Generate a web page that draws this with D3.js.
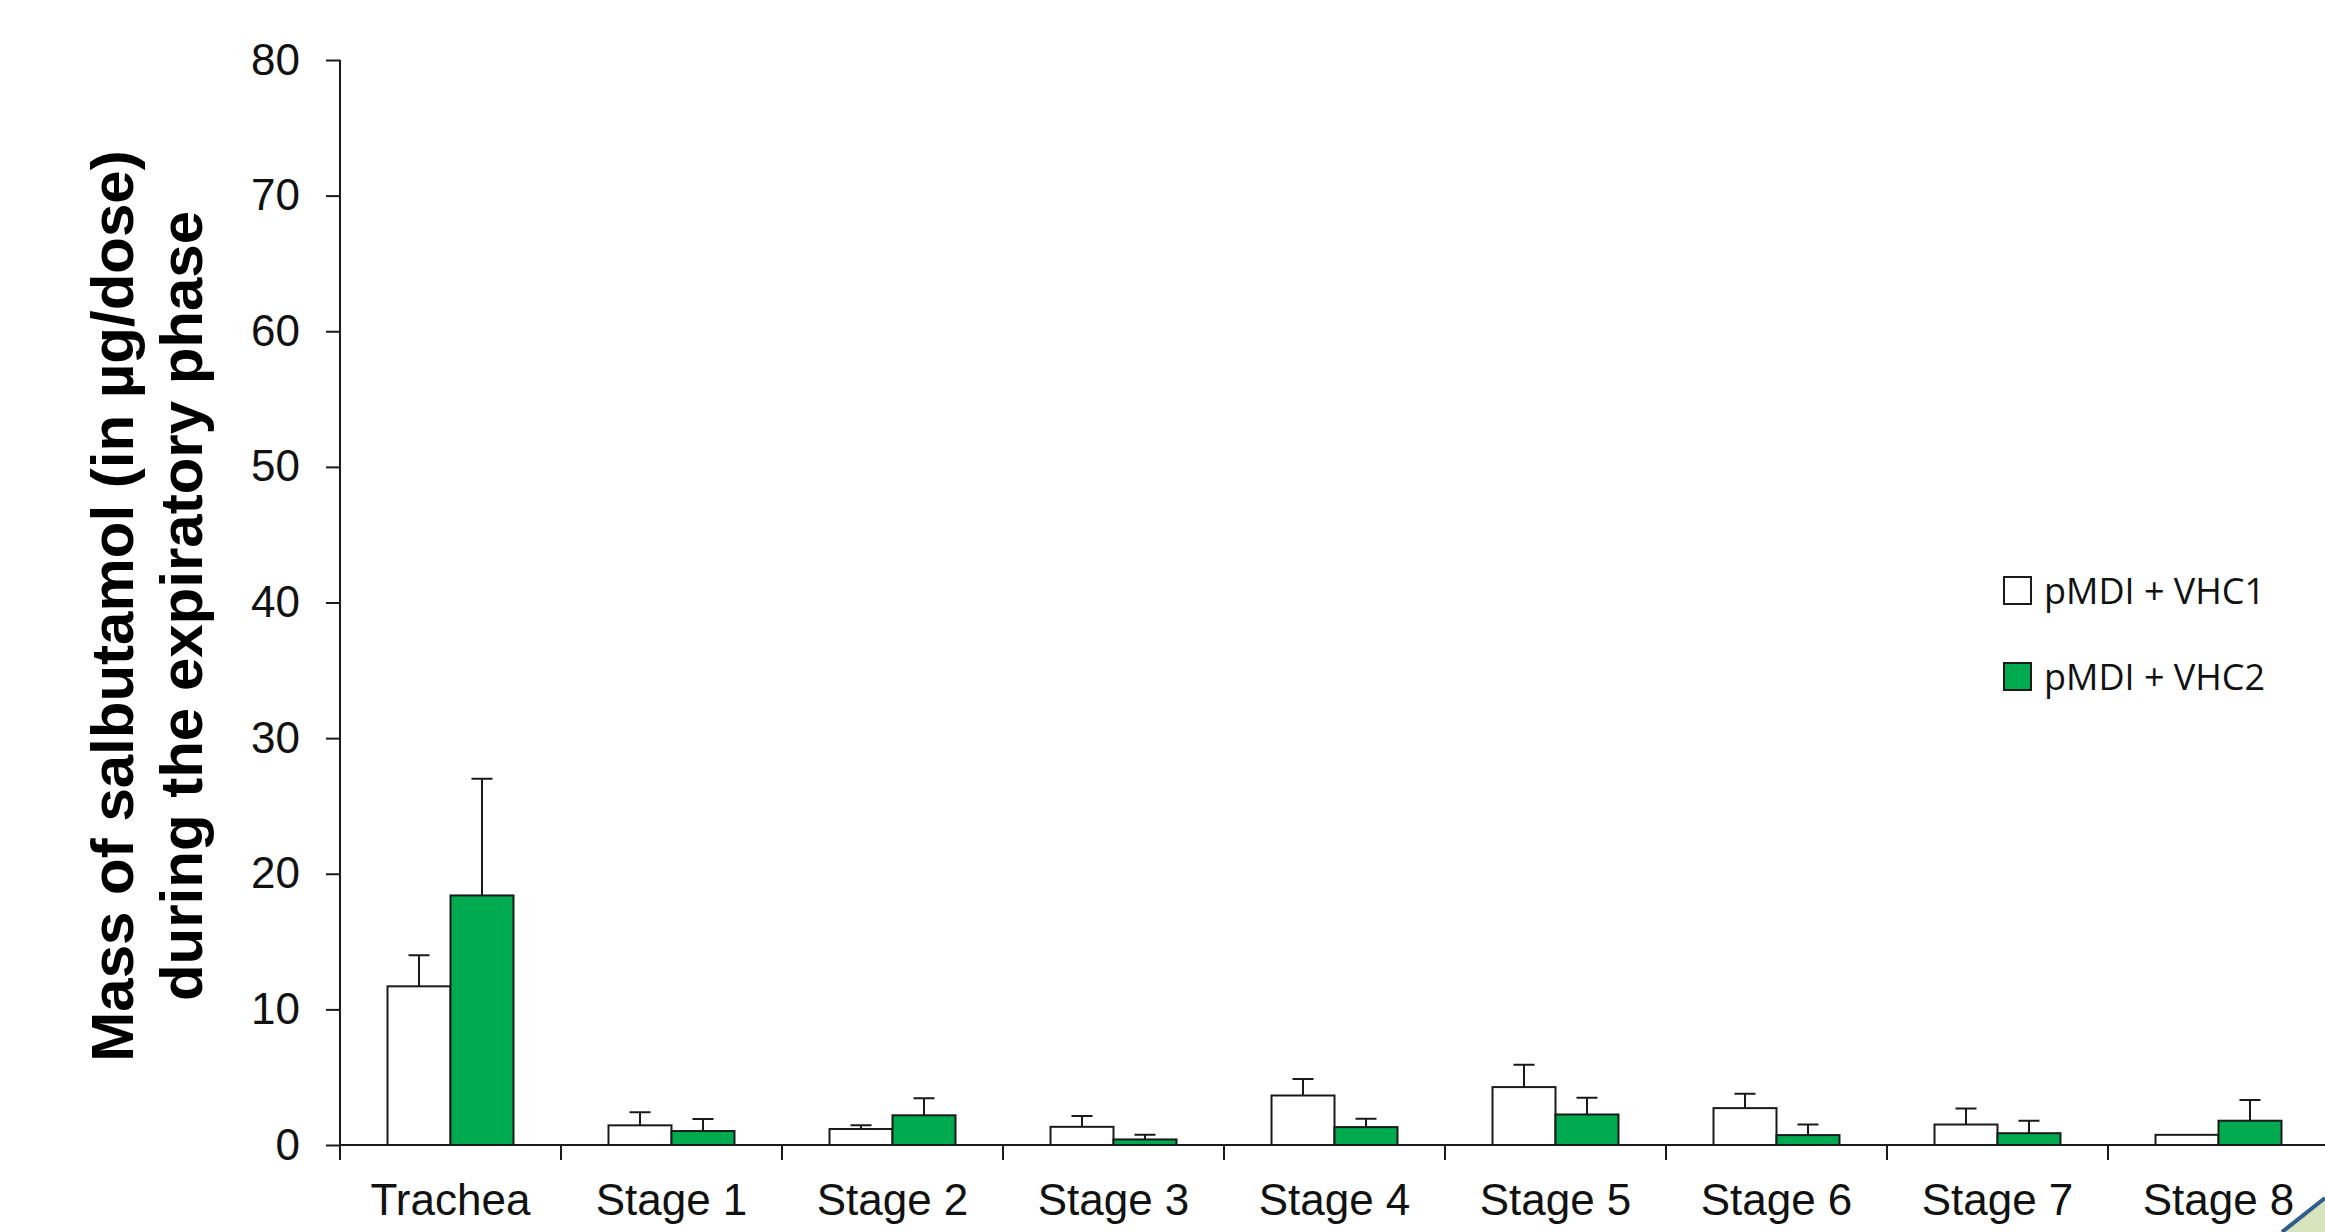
<!DOCTYPE html>
<html>
<head>
<meta charset="utf-8">
<script src="https://cdn.jsdelivr.net/npm/d3@7"></script>
<style>
  html, body { margin: 0; padding: 0; background: #ffffff; }
  svg { display: block; }
</style>
</head>
<body>
<script>
// Salbutamol deposited per stage during the expiratory phase (µg/dose), mean + SD
const categories = ["Trachea", "Stage 1", "Stage 2", "Stage 3", "Stage 4", "Stage 5", "Stage 6", "Stage 7", "Stage 8"];
const seriesNames = ["pMDI + VHC1", "pMDI + VHC2"];
const vhc1Mean = [11.7, 1.45, 1.18, 1.34, 3.65, 4.27, 2.72, 1.51, 0.75];
const vhc1Top  = [14.0, 2.42, 1.45, 2.13, 4.86, 5.92, 3.78, 2.69, null];
const vhc2Mean = [18.4, 1.03, 2.19, 0.41, 1.32, 2.25, 0.73, 0.87, 1.79];
const vhc2Top  = [27.0, 1.92, 3.45, 0.75, 1.93, 3.48, 1.51, 1.79, 3.31];
const yTicks = [0, 10, 20, 30, 40, 50, 60, 70, 80];

const W = 2325, H = 1232;
const plotLeft = 340, plotRight = 2329, plotTop = 60, plotBottom = 1145;
const ink = "#1a1a1a";
const green = "#00ab4f";
const fills = ["#ffffff", green];

const svg = d3.select("body").append("svg")
  .attr("width", W).attr("height", H)
  .attr("viewBox", `0 0 ${W} ${H}`);

const x = d3.scaleBand().domain(categories).range([plotLeft, plotRight]).paddingInner(0).paddingOuter(0);
const bw = x.bandwidth();
const xs = d3.scaleBand().domain(seriesNames).range([bw * 0.215, bw * 0.785]).padding(0);
const y = d3.scaleLinear().domain([0, 80]).range([plotBottom, plotTop]);

const rows = categories.map((c, i) => ({
  cat: c,
  vals: [
    { s: seriesNames[0], v: vhc1Mean[i], t: vhc1Top[i], f: fills[0] },
    { s: seriesNames[1], v: vhc2Mean[i], t: vhc2Top[i], f: fills[1] }
  ]
}));

// Bars and error bars
const groups = svg.append("g").selectAll("g").data(rows).join("g")
  .attr("transform", d => `translate(${x(d.cat)},0)`);

groups.selectAll("path.err").data(d => d.vals.filter(v => v.t != null)).join("path")
  .attr("class", "err")
  .attr("d", d => {
    const cx = xs(d.s) + xs.bandwidth() / 2;
    return `M${cx},${y(d.v)}V${y(d.t)}M${cx - 10.5},${y(d.t)}H${cx + 10.5}`;
  })
  .attr("fill", "none").attr("stroke", ink).attr("stroke-width", 2);

groups.selectAll("rect").data(d => d.vals).join("rect")
  .attr("x", d => xs(d.s))
  .attr("y", d => y(d.v))
  .attr("width", xs.bandwidth())
  .attr("height", d => y(0) - y(d.v))
  .attr("fill", d => d.f)
  .attr("stroke", ink).attr("stroke-width", 2);

// Y axis
const yAxis = svg.append("g")
  .attr("transform", `translate(${plotLeft},0)`)
  .call(d3.axisLeft(y).tickValues(yTicks).tickSize(14).tickPadding(26).tickSizeOuter(0));
yAxis.select(".domain").remove();
yAxis.append("line").attr("x1", 0).attr("x2", 0).attr("y1", y(80)).attr("y2", plotBottom + 15)
  .attr("stroke", ink).attr("stroke-width", 2);
yAxis.selectAll(".tick line").attr("stroke", ink).attr("stroke-width", 2);
yAxis.selectAll(".tick text")
  .attr("fill", "#111").attr("font-family", "'Liberation Sans', Arial, sans-serif")
  .attr("font-size", 44);

// X axis with band-boundary ticks
const xAxis = svg.append("g").attr("transform", `translate(0,${plotBottom})`);
xAxis.append("line").attr("x1", plotLeft).attr("x2", W).attr("y1", 0).attr("y2", 0)
  .attr("stroke", ink).attr("stroke-width", 2);
xAxis.selectAll("line.bt").data(categories.slice(1)).join("line")
  .attr("class", "bt")
  .attr("x1", d => x(d)).attr("x2", d => x(d)).attr("y1", 0).attr("y2", 15)
  .attr("stroke", ink).attr("stroke-width", 2);
xAxis.selectAll("text").data(categories).join("text")
  .attr("x", d => x(d) + bw / 2).attr("y", 70)
  .attr("text-anchor", "middle")
  .attr("fill", "#111").attr("font-family", "'Liberation Sans', Arial, sans-serif")
  .attr("font-size", 44)
  .text(d => d);

// Y axis title
const title = svg.append("text")
  .attr("transform", "translate(0,606) rotate(-90)")
  .attr("text-anchor", "middle")
  .attr("font-family", "'Liberation Sans', Arial, sans-serif")
  .attr("font-weight", "bold").attr("font-size", 60).attr("fill", "#000");
title.append("tspan").attr("x", 0).attr("y", 133).text("Mass of salbutamol (in µg/dose)");
title.append("tspan").attr("x", 0).attr("y", 202).text("during the expiratory phase");

// Legend
const legend = svg.append("g").attr("transform", "translate(2004,577)");
const li = legend.selectAll("g").data(seriesNames).join("g")
  .attr("transform", (d, i) => `translate(0,${i * 86})`);
li.append("rect").attr("width", 27).attr("height", 27)
  .attr("fill", (d, i) => fills[i]).attr("stroke", ink).attr("stroke-width", 2);
li.append("text").attr("x", 40).attr("y", 27)
  .attr("font-family", "'Open Sans', Lato, sans-serif").attr("font-size", 36)
  .attr("fill", "#111").text(d => d);

// Slide corner ornament
svg.append("path")
  .attr("d", `M2282,${H}L${W},1198V${H}Z`)
  .attr("fill", "#d8e4bd");
svg.append("path")
  .attr("d", `M2282,${H}L${W},1198`)
  .attr("stroke", "#2f5d8e").attr("stroke-width", 4).attr("fill", "none");
</script>
</body>
</html>
